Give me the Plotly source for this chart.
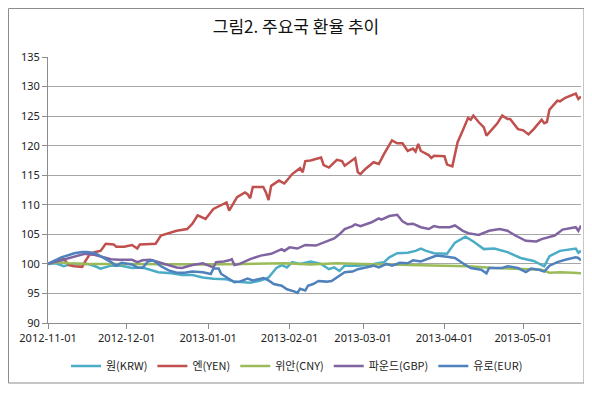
import plotly.graph_objects as go

# ---------------- data (index, 2012-11-01 = 100) ----------------
krw_dates = ["2012-11-01","2012-11-04","2012-11-07","2012-11-10","2012-11-16","2012-11-19","2012-11-21","2012-11-25",
             "2012-11-29","2012-12-03","2012-12-07","2012-12-13","2012-12-18","2012-12-22","2012-12-26","2012-12-30",
             "2013-01-03","2013-01-08","2013-01-11","2013-01-17","2013-01-21","2013-01-24","2013-01-27","2013-01-29",
             "2013-01-31","2013-02-02","2013-02-05","2013-02-09","2013-02-13","2013-02-16","2013-02-18","2013-02-20",
             "2013-02-22","2013-02-27","2013-03-05","2013-03-09","2013-03-11","2013-03-14","2013-03-18","2013-03-21",
             "2013-03-23","2013-03-25","2013-03-28","2013-03-31","2013-04-02","2013-04-05","2013-04-09","2013-04-12",
             "2013-04-16","2013-04-20","2013-04-25","2013-04-30","2013-05-05","2013-05-09","2013-05-11","2013-05-15",
             "2013-05-19","2013-05-21","2013-05-22","2013-05-23"]
krw = [100.0,100.1,99.6,100.0,100.0,99.6,99.2,99.7,
       99.7,99.3,99.4,98.6,98.4,98.1,98.1,97.7,
       97.5,97.4,97.0,96.8,97.2,97.7,99.3,99.8,
       99.4,100.3,100.0,100.4,100.0,99.1,99.4,98.8,
       99.7,99.7,100.0,100.3,101.1,101.8,101.9,102.2,
       102.6,102.2,101.8,101.8,101.7,103.6,104.6,103.8,
       102.5,102.6,102.0,101.0,100.5,99.6,101.3,102.2,
       102.5,102.6,101.9,102.2]

yen_dates = ["2012-11-01","2012-11-04","2012-11-07","2012-11-09","2012-11-11","2012-11-14","2012-11-15","2012-11-17",
             "2012-11-19","2012-11-21","2012-11-23","2012-11-26","2012-11-27","2012-11-30","2012-12-03","2012-12-05",
             "2012-12-06","2012-12-09","2012-12-12","2012-12-14","2012-12-18","2012-12-20","2012-12-24","2012-12-26",
             "2012-12-28","2012-12-31","2013-01-03","2013-01-06","2013-01-08","2013-01-09","2013-01-12","2013-01-15",
             "2013-01-16","2013-01-17","2013-01-18","2013-01-22","2013-01-23","2013-01-24","2013-01-25","2013-01-28",
             "2013-01-30","2013-01-31","2013-02-02","2013-02-05","2013-02-06","2013-02-07","2013-02-09","2013-02-13",
             "2013-02-14","2013-02-16","2013-02-19","2013-02-21","2013-02-22","2013-02-26","2013-02-27","2013-02-28",
             "2013-03-02","2013-03-05","2013-03-07","2013-03-09","2013-03-12","2013-03-14","2013-03-16","2013-03-18",
             "2013-03-20","2013-03-21","2013-03-22","2013-03-23","2013-03-26","2013-03-27","2013-03-28","2013-04-01",
             "2013-04-02","2013-04-04","2013-04-06","2013-04-08","2013-04-10","2013-04-11","2013-04-12","2013-04-14",
             "2013-04-16","2013-04-17","2013-04-19","2013-04-21","2013-04-23","2013-04-25","2013-04-26","2013-04-29",
             "2013-05-01","2013-05-03","2013-05-05","2013-05-08","2013-05-09","2013-05-10","2013-05-11","2013-05-14",
             "2013-05-15","2013-05-17","2013-05-21","2013-05-22","2013-05-23"]
yen = [100.0,100.6,100.8,99.8,99.6,99.5,100.3,101.7,
       102.0,102.2,103.4,103.3,102.9,102.9,103.2,102.6,
       103.3,103.3,103.4,104.8,105.3,105.6,105.9,106.8,
       108.2,107.6,109.3,109.9,110.4,109.0,111.3,112.1,
       111.8,111.1,113.0,113.0,112.1,110.8,113.2,114.1,
       113.6,114.1,115.2,116.2,115.5,117.4,117.5,118.0,
       116.7,116.3,117.6,117.4,116.6,117.9,115.5,115.2,
       116.1,117.2,116.9,118.6,120.9,120.4,120.4,119.1,
       119.5,119.0,120.3,119.1,118.4,117.9,118.3,118.2,
       116.8,116.5,120.6,122.6,124.7,124.4,125.1,124.0,
       123.1,121.7,122.8,123.7,125.1,124.5,124.5,122.8,
       122.6,121.9,122.8,124.4,123.8,124.0,126.1,127.6,
       127.5,128.1,128.8,127.9,128.3]

cny_dates = ["2012-11-01","2012-11-05","2012-11-09","2012-11-16","2012-12-01","2012-12-16","2012-12-31","2013-01-15",
             "2013-01-30","2013-02-09","2013-02-19","2013-03-01","2013-03-11","2013-03-21","2013-03-31","2013-04-10",
             "2013-04-20","2013-04-30","2013-05-08","2013-05-11","2013-05-15","2013-05-20","2013-05-23"]
cny = [100.0,100.3,100.1,100.0,100.0,99.9,99.9,100.0,
       100.1,99.9,100.1,100.0,99.9,99.8,99.7,99.6,
       99.3,99.1,99.0,98.5,98.6,98.5,98.4]

gbp_dates = ["2012-11-01","2012-11-06","2012-11-11","2012-11-15","2012-11-19","2012-11-22","2012-11-25","2012-11-28",
             "2012-12-03","2012-12-05","2012-12-07","2012-12-10","2012-12-13","2012-12-16","2012-12-20","2012-12-22",
             "2012-12-26","2012-12-30","2013-01-03","2013-01-04","2013-01-07","2013-01-09","2013-01-10","2013-01-11",
             "2013-01-13","2013-01-17","2013-01-21","2013-01-25","2013-01-29","2013-01-30","2013-02-01","2013-02-04",
             "2013-02-07","2013-02-11","2013-02-14","2013-02-18","2013-02-20","2013-02-22","2013-02-25","2013-02-26",
             "2013-02-28","2013-03-04","2013-03-07","2013-03-08","2013-03-11","2013-03-14","2013-03-16","2013-03-18",
             "2013-03-20","2013-03-23","2013-03-26","2013-03-28","2013-03-30","2013-04-03","2013-04-05","2013-04-08",
             "2013-04-10","2013-04-14","2013-04-18","2013-04-22","2013-04-25","2013-04-28","2013-05-02","2013-05-06",
             "2013-05-08","2013-05-13","2013-05-16","2013-05-19","2013-05-21","2013-05-22","2013-05-23"]
gbp = [100.0,100.6,101.1,101.7,101.5,101.1,100.8,100.7,
       100.7,100.3,100.6,100.7,100.3,100.0,99.4,99.3,
       99.8,100.1,99.4,100.3,100.4,100.6,100.8,99.8,
       100.0,100.8,101.4,101.7,102.5,102.2,102.8,102.6,
       103.2,103.1,103.6,104.3,105.0,105.9,106.4,106.7,
       106.4,107.0,107.7,107.5,108.1,108.3,107.2,106.7,
       106.8,106.2,105.9,106.4,106.2,106.2,106.5,105.6,
       105.2,104.9,105.6,105.9,105.6,104.8,103.9,103.8,
       104.2,104.8,105.8,106.0,106.2,105.6,106.5]

eur_dates = ["2012-11-01","2012-11-06","2012-11-09","2012-11-11","2012-11-14","2012-11-16","2012-11-19","2012-11-22",
             "2012-11-25","2012-11-27","2012-11-29","2012-12-03","2012-12-05","2012-12-07","2012-12-09","2012-12-11",
             "2012-12-14","2012-12-17","2012-12-20","2012-12-23","2012-12-26","2012-12-30","2013-01-02","2013-01-03",
             "2013-01-05","2013-01-06","2013-01-09","2013-01-11","2013-01-13","2013-01-16","2013-01-18","2013-01-22",
             "2013-01-24","2013-01-26","2013-01-29","2013-01-31","2013-02-03","2013-02-04","2013-02-05","2013-02-07",
             "2013-02-08","2013-02-10","2013-02-12","2013-02-15","2013-02-17","2013-02-20","2013-02-22","2013-02-25",
             "2013-02-27","2013-03-02","2013-03-05","2013-03-07","2013-03-10","2013-03-12","2013-03-15","2013-03-18",
             "2013-03-20","2013-03-23","2013-03-27","2013-03-29","2013-04-02","2013-04-05","2013-04-08","2013-04-11",
             "2013-04-15","2013-04-17","2013-04-18","2013-04-23","2013-04-25","2013-04-29","2013-05-02","2013-05-04",
             "2013-05-07","2013-05-09","2013-05-11","2013-05-14","2013-05-17","2013-05-21","2013-05-22","2013-05-23"]
eur = [100.0,101.1,101.5,101.8,102.0,102.0,101.8,101.1,
       100.3,99.7,100.2,99.9,99.4,99.3,100.4,100.6,
       99.6,98.9,98.5,98.5,98.7,98.6,98.3,99.2,
       99.2,98.3,97.5,96.9,97.0,97.5,97.2,97.6,
       97.2,96.6,96.3,95.7,95.3,95.1,95.8,95.5,
       96.3,96.6,97.1,97.0,97.1,98.0,98.6,98.7,
       99.1,99.4,99.7,99.4,100.0,99.7,100.2,100.1,
       100.6,100.4,101.1,101.4,101.2,101.0,100.1,99.3,
       99.0,98.4,99.3,99.3,99.6,99.3,98.6,99.2,
       99.0,98.7,99.7,100.3,100.7,101.1,101.0,100.6]

series_names = ["원(KRW)", "엔(YEN)", "위안(CNY)", "파운드(GBP)", "유로(EUR)"]
series_colors = ["#4BACC6", "#C0504D", "#9BBB59", "#8064A2", "#4F81BD"]
y_ticks = [90, 95, 100, 105, 110, 115, 120, 125, 130, 135]

FONT = "Noto Sans CJK KR, Malgun Gothic, sans-serif"
TICK_FONT = "Noto Sans, Noto Sans CJK KR, sans-serif"

# the page body adds an 8px margin, so the figure is 8px smaller and offset
W, H = 584, 385
ML, MR, MT, MB = 40, 11, 49, 70
PW, PH = W - ML - MR, H - MT - MB

fig = go.Figure()
for name, color, xs, ys in zip(series_names, series_colors,
                               [krw_dates, yen_dates, cny_dates, gbp_dates, eur_dates],
                               [krw, yen, cny, gbp, eur]):
    fig.add_trace(go.Scatter(x=xs, y=ys, mode="lines", name=name,
                             line=dict(color=color, width=2.5)))

fig.update_layout(
    width=W, height=H,
    margin=dict(l=ML, r=MR, t=MT, b=MB, autoexpand=False),
    paper_bgcolor="white", plot_bgcolor="white",
    font=dict(family=FONT, size=11, color="#222222"),
    title=dict(text="그림2. 주요국 환율 추이", x=(296 - 8) / W, xanchor="center",
               y=1 - 19 / H, yanchor="middle",
               font=dict(family=FONT, size=17, color="#111111")),
    showlegend=True,
    legend=dict(orientation="h", x=(297 - 8 - ML) / PW, xanchor="center",
                y=-(358 - MT - PH) / PH, yanchor="middle",
                font=dict(family=FONT, size=11, color="#222222"),
                itemwidth=30, tracegroupgap=0, bgcolor="rgba(0,0,0,0)"),
    shapes=[dict(type="rect", xref="paper", yref="paper",
                 x0=(0.5 - ML) / PW, x1=(576 - ML) / PW,
                 y0=-(375 - MT - PH) / PH, y1=(MT + PH - 0.5) / PH,
                 line=dict(color="#8c8c8c", width=1), fillcolor="rgba(0,0,0,0)", layer="below")],
)

fig.update_xaxes(
    type="date", range=["2012-11-01", "2013-05-23"],
    tick0="2012-11-01", dtick="M1", tickformat="%Y-%m-%d",
    showgrid=False, showline=True, linecolor="#8c8c8c", linewidth=1,
    ticks="outside", ticklen=5, tickcolor="#8c8c8c",
    tickfont=dict(family=TICK_FONT, size=11, color="#222222"), zeroline=False,
)
fig.update_yaxes(
    range=[90, 135], tickvals=y_ticks,
    showgrid=True, gridcolor="#a6a6a6", gridwidth=1,
    showline=True, linecolor="#8c8c8c", linewidth=1,
    ticks="outside", ticklen=5, tickcolor="#8c8c8c",
    tickfont=dict(family=TICK_FONT, size=11, color="#222222"), zeroline=False,
)

fig.write_html("out.html")
